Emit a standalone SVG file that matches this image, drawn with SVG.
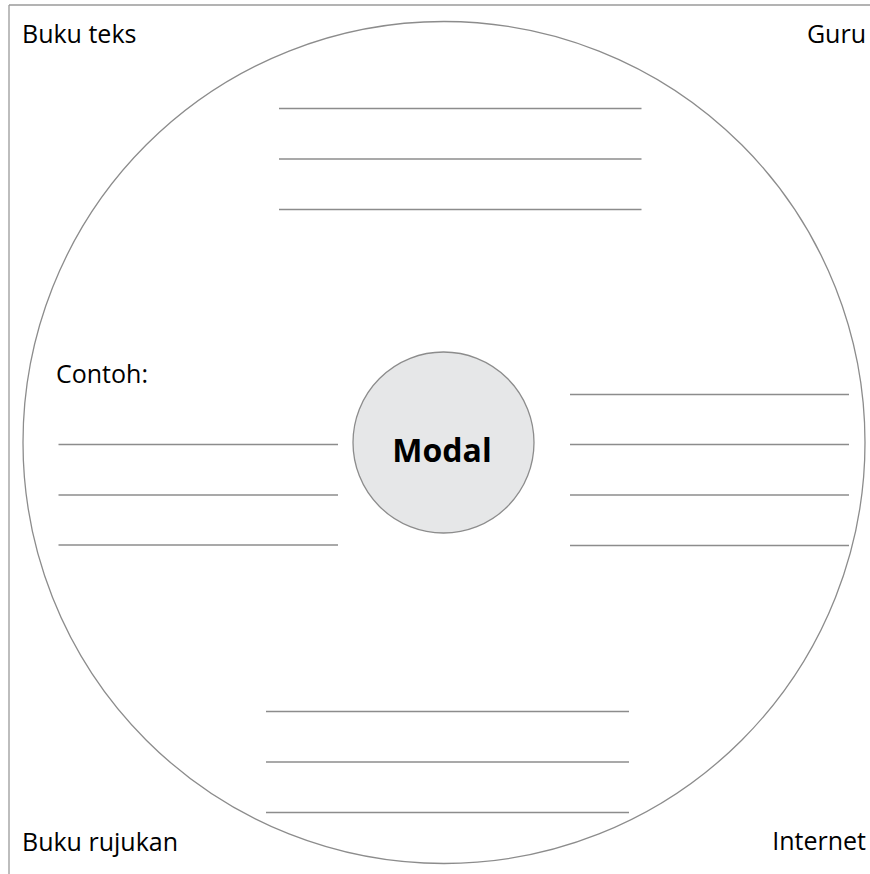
<svg xmlns="http://www.w3.org/2000/svg" width="870" height="874" viewBox="0 0 870 874">
<style>
.frame{stroke:#9a9a9a;stroke-width:1.3;fill:none}
.ln{stroke:#8c8c8c;stroke-width:1.3;fill:none}
.t{font-family:"Open Sans","Noto Sans","Liberation Sans",sans-serif;font-size:25px;fill:#000}
.b{font-family:"Open Sans","Noto Sans","Liberation Sans",sans-serif;font-size:32px;font-weight:bold;fill:#000}
</style>
<rect width="870" height="874" fill="#fff"/>
<g id="frame">
<line class="frame" x1="9" y1="5" x2="870" y2="5"/>
<line class="frame" x1="9" y1="5" x2="9" y2="874"/>
</g>
<g id="outer-circle">
<circle class="ln" cx="444" cy="442.5" r="421"/>
</g>
<g id="labels">
<text class="t" x="22" y="43">Buku teks</text>
<text class="t" x="866" y="43" text-anchor="end">Guru</text>
<text class="t" x="22" y="851">Buku rujukan</text>
<text class="t" x="866" y="850" text-anchor="end">Internet</text>
<text class="t" x="56" y="383">Contoh:</text>
</g>
<g id="connectors">
<g id="lines-top">
<line class="ln" x1="279" y1="108.5" x2="641.5" y2="108.5"/>
<line class="ln" x1="279" y1="159" x2="641.5" y2="159"/>
<line class="ln" x1="279" y1="209.5" x2="641.5" y2="209.5"/>
</g>
<g id="lines-left">
<line class="ln" x1="58.5" y1="444.5" x2="338" y2="444.5"/>
<line class="ln" x1="58.5" y1="495" x2="338" y2="495"/>
<line class="ln" x1="58.5" y1="545" x2="338" y2="545"/>
</g>
<g id="lines-right">
<line class="ln" x1="570" y1="394.5" x2="849" y2="394.5"/>
<line class="ln" x1="570" y1="444.5" x2="849" y2="444.5"/>
<line class="ln" x1="570" y1="495" x2="849" y2="495"/>
<line class="ln" x1="570" y1="545.5" x2="849" y2="545.5"/>
</g>
<g id="lines-bottom">
<line class="ln" x1="266" y1="711.5" x2="629" y2="711.5"/>
<line class="ln" x1="266" y1="762" x2="629" y2="762"/>
<line class="ln" x1="266" y1="812.5" x2="629" y2="812.5"/>
</g>
</g>
<g id="modal">
<circle cx="443.5" cy="442.5" r="90.5" fill="#e6e7e8" stroke="#8c8c8c" stroke-width="1.3"/>
<text class="b" x="442" y="462" text-anchor="middle">Modal</text>
</g>
</svg>
